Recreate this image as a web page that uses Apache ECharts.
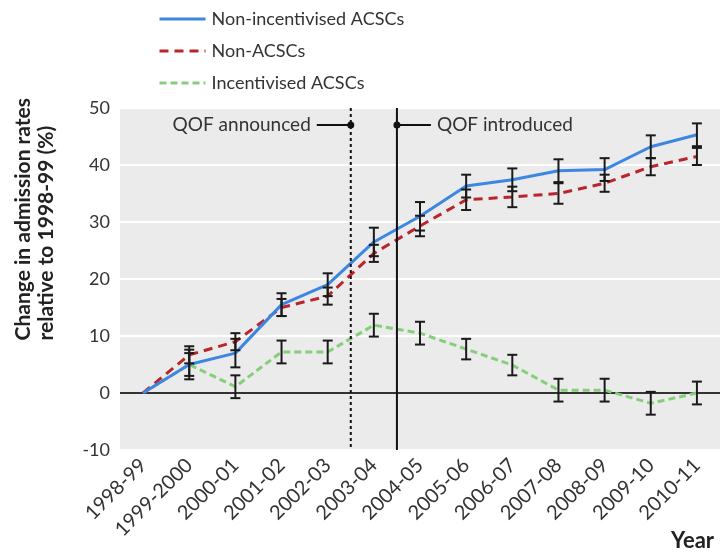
<!DOCTYPE html>
<html><head><meta charset="utf-8">
<script src="https://cdn.jsdelivr.net/npm/echarts@6/dist/echarts.min.js"></script>
<style>html,body{margin:0;padding:0;background:#fff}#c{width:726px;height:552px}</style>
</head><body><div id="c"></div>
<script>
const categories = ['1998-99','1999-2000','2000-01','2001-02','2002-03','2003-04','2004-05','2005-06','2006-07','2007-08','2008-09','2009-10','2010-11'];
const nonIncentivised = [0, 5, 7, 15.5, 19, 26.5, 31, 36.3, 37.4, 39, 39.2, 43.2, 45.3];
const nonIncentivisedErr = [0, 2, 2.5, 2, 2, 2.5, 2.5, 2, 2, 2, 2, 2, 2];
const nonACSC = [0, 6.7, 9, 15, 17, 24.5, 29.3, 33.9, 34.4, 35, 36.8, 39.7, 41.5];
const nonACSCErr = [0, 1.5, 1.5, 1.5, 1.5, 1.5, 1.8, 1.8, 1.8, 1.8, 1.5, 1.5, 1.5];
const incentivised = [0, 5, 1.1, 7.2, 7.2, 11.9, 10.5, 7.7, 4.9, 0.5, 0.5, -1.8, 0];
const incentivisedErr = [0, 2.6, 2, 2, 2, 2, 2, 1.8, 1.8, 2, 2, 2, 2];
const yMin = -10, yMax = 50, yStep = 10;
const events = [
  {at: 5, label: 'QOF announced', dashed: true, side: -1},
  {at: 6, label: 'QOF introduced', dashed: false, side: 1}
];
const eventLabelY = 47;
const seriesNames = ['Non-incentivised ACSCs', 'Non-ACSCs', 'Incentivised ACSCs'];

const FONT = 'Lato';
const chart = echarts.init(document.getElementById('c'), null, {renderer: 'canvas'});

function errSeries(vals, errs) {
  return {
    type: 'custom', xAxisIndex: 0, yAxisIndex: 0, z: 6, silent: true,
    data: vals.map((v, i) => [i, v - errs[i], v + errs[i], errs[i]]).filter(d => d[3] > 0),
    renderItem(params, api) {
      const x = api.value(0);
      const lo = api.coord([x, api.value(1)]);
      const hi = api.coord([x, api.value(2)]);
      const w = 5;
      const st = {stroke: '#1a1a1a', lineWidth: 2};
      return {type: 'group', children: [
        {type: 'line', shape: {x1: lo[0], y1: lo[1], x2: hi[0], y2: hi[1]}, style: st},
        {type: 'line', shape: {x1: lo[0] - w, y1: lo[1], x2: lo[0] + w, y2: lo[1]}, style: st},
        {type: 'line', shape: {x1: hi[0] - w, y1: hi[1], x2: hi[0] + w, y2: hi[1]}, style: st}
      ]};
    }
  };
}

const option = {
  animation: false,
  backgroundColor: '#fff',
  textStyle: {fontFamily: FONT},
  legend: {
    data: seriesNames, orient: 'vertical', left: 153, top: 5,
    itemWidth: 46, itemHeight: 16, itemGap: 14,
    itemStyle: {opacity: 0},
    lineStyle: {width: 3},
    textStyle: {fontSize: 18, color: '#333', fontFamily: FONT, padding: [0, 0, 0, 1]}
  },
  grid: {left: 120, right: 6, top: 108, bottom: 102, show: true, backgroundColor: '#ebebeb', borderWidth: 0},
  xAxis: [
    {type: 'category', data: categories, boundaryGap: true,
     axisLine: {show: false}, axisTick: {show: false},
     axisLabel: {rotate: 45, fontSize: 20, color: '#333', margin: 12, interval: 0, fontFamily: FONT}},
    {type: 'value', min: 0, max: categories.length, show: false}
  ],
  yAxis: {
    type: 'value', min: yMin, max: yMax, interval: yStep,
    axisLine: {show: false}, axisTick: {show: false},
    axisLabel: {fontSize: 18, color: '#333', margin: 10, fontFamily: FONT},
    splitLine: {show: true, lineStyle: {color: '#fff', width: 2}}
  },
  graphic: [
    {type: 'text', left: 12, top: 98, rotation: Math.PI / 2, originX: 0, originY: 0,
     style: {text: 'Change in admission rates\nrelative to 1998-99 (%)', fontFamily: FONT, fontWeight: 'bold', fontSize: 21, fill: '#222', lineHeight: 23, align: 'right'}},
    {type: 'text', right: 12, bottom: 0,
     style: {text: 'Year', fontFamily: FONT, fontWeight: 'bold', fontSize: 22, fill: '#222'}}
  ],
  series: [
    {type: 'custom', xAxisIndex: 1, yAxisIndex: 0, z: 1, silent: true,
     data: [[0, categories.length]],
     renderItem(params, api) {
       const a = api.coord([api.value(0), 0]);
       const b = api.coord([api.value(1), 0]);
       return {type: 'line', shape: {x1: a[0], y1: a[1], x2: b[0], y2: b[1]}, style: {stroke: '#333', lineWidth: 2}};
     }},
    {type: 'custom', xAxisIndex: 1, yAxisIndex: 0, z: 7, silent: true,
     data: events.map(e => [e.at, e.dashed ? 1 : 0, e.side]),
     renderItem(params, api) {
       const ev = events[params.dataIndex];
       const x = api.value(0);
       const top = api.coord([x, yMax]);
       const bot = api.coord([x, yMin]);
       const p = api.coord([x, eventLabelY]);
       const side = ev.side;
       const len = 34;
       return {type: 'group', children: [
         {type: 'line', shape: {x1: top[0], y1: top[1], x2: bot[0], y2: bot[1]},
          style: {stroke: '#111', lineWidth: 2, lineDash: ev.dashed ? [3, 3] : null}},
         {type: 'line', shape: {x1: p[0], y1: p[1], x2: p[0] + side * len, y2: p[1]},
          style: {stroke: '#111', lineWidth: 2}},
         {type: 'circle', shape: {cx: p[0], cy: p[1], r: 3.5}, style: {fill: '#111'}},
         {type: 'text', x: p[0] + side * (len + 6), y: p[1],
          style: {text: ev.label, fontFamily: FONT, fontSize: 19, fill: '#333',
                  align: side < 0 ? 'right' : 'left', verticalAlign: 'middle'}}
       ]};
     }},
    {name: seriesNames[2], type: 'line', data: incentivised, symbol: 'none', z: 3,
     lineStyle: {color: '#86cf7a', width: 3, type: [7, 4]}, itemStyle: {color: '#86cf7a'}},
    {name: seriesNames[1], type: 'line', data: nonACSC, symbol: 'none', z: 4,
     lineStyle: {color: '#b8262c', width: 3, type: [9, 6]}, itemStyle: {color: '#b8262c'}},
    {name: seriesNames[0], type: 'line', data: nonIncentivised, symbol: 'none', z: 5,
     lineStyle: {color: '#3d86e2', width: 3}, itemStyle: {color: '#3d86e2'}},
    errSeries(incentivised, incentivisedErr),
    errSeries(nonACSC, nonACSCErr),
    errSeries(nonIncentivised, nonIncentivisedErr)
  ]
};
chart.setOption(option);
</script>
</body></html>
